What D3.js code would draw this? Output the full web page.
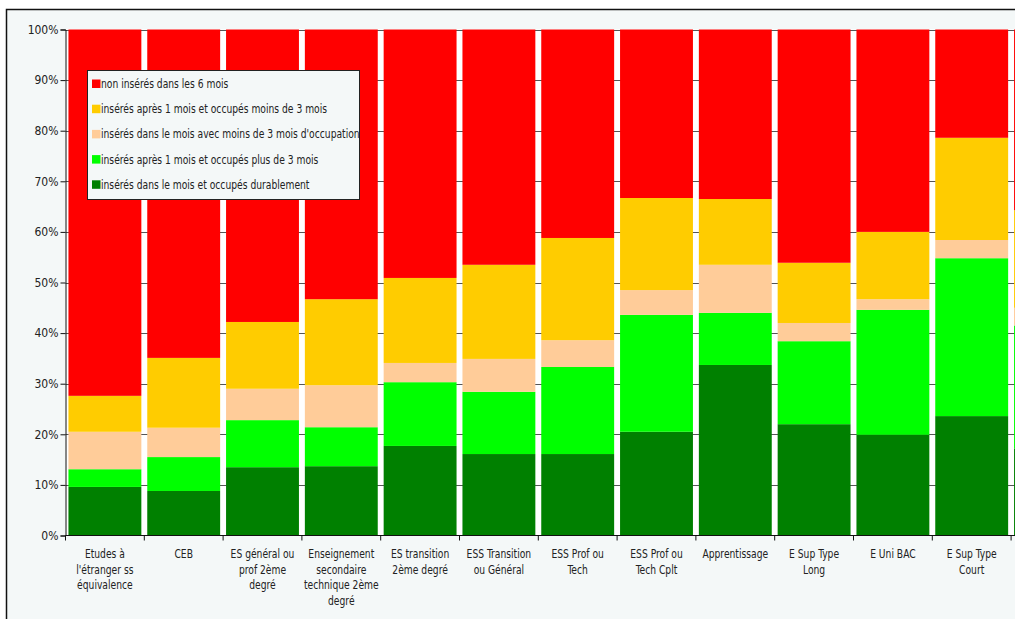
<!DOCTYPE html>
<html>
<head>
<meta charset="utf-8">
<script src="https://cdn.jsdelivr.net/npm/d3@7"></script>
<style>
  html, body { margin: 0; padding: 0; background: #ffffff; overflow: hidden; }
  svg { display: block; }
  text { font-family: "DejaVu Sans Condensed", "DejaVu Sans", sans-serif; fill: #222; }
</style>
</head>
<body>
<svg id="chart" width="1015" height="619"></svg>
<script>
// ---- Data ----
const categories = [
  ["Etudes à", "l'étranger ss", "équivalence"],
  ["CEB"],
  ["ES général ou", "prof 2ème", "degré"],
  ["Enseignement", "secondaire", "technique 2ème", "degré"],
  ["ES transition", "2ème degré"],
  ["ESS Transition", "ou Général"],
  ["ESS Prof ou", "Tech"],
  ["ESS Prof ou", "Tech Cplt"],
  ["Apprentissage"],
  ["E Sup Type", "Long"],
  ["E Uni BAC"],
  ["E Sup Type", "Court"],
  ["Total"]
];
const seriesNames = [
  "insérés dans le mois et occupés durablement",
  "insérés après 1 mois et occupés plus de 3 mois",
  "insérés dans le mois avec moins de 3 mois d'occupation",
  "insérés après 1 mois et occupés moins de 3 mois",
  "non insérés dans les 6 mois"
];
const seriesColors = ["#008000", "#00ff00", "#ffcc99", "#ffcc00", "#ff0000"];
// values in % (stack bottom -> top)
const durables      = [9.6, 8.8, 13.5, 13.7, 17.7, 16.1, 16.1, 20.5, 33.7, 22.0, 19.9, 23.6, 17.2];
const plus3mois     = [3.5, 6.7,  9.3,  7.7, 12.6, 12.3, 17.2, 23.1, 10.3, 16.4, 24.7, 31.2, 24.3];
const moinsDansMois = [7.4, 5.8,  6.2,  8.3,  3.8,  6.5,  5.3,  4.9,  9.5,  3.6,  2.1,  3.6,  3.5];
const moinsApres    = [7.1, 13.8, 13.2, 17.0, 16.8, 18.6, 20.2, 18.2, 13.0, 11.9, 13.3, 20.2, 19.3];
const nonInseres    = [72.4, 64.9, 57.8, 53.3, 49.1, 46.5, 41.2, 33.3, 33.5, 46.1, 40.0, 21.4, 35.7];
const yTicks = [0, 10, 20, 30, 40, 50, 60, 70, 80, 90, 100];

const seriesValues = [durables, plus3mois, moinsDansMois, moinsApres, nonInseres];

// ---- Build table ----
const keys = seriesNames;
const table = categories.map((c, i) => {
  const row = { cat: c.join(" "), lines: c };
  keys.forEach((k, j) => row[k] = seriesValues[j][i]);
  return row;
});

const svg = d3.select("#chart");
const W = 1015, H = 619;
const SQ = 0.85; // horizontal squeeze of the narrow original font

function squeeze(sel) {
  sel.each(function() {
    const w = this.getComputedTextLength();
    if (w > 0) d3.select(this).attr("textLength", w * SQ).attr("lengthAdjust", "spacingAndGlyphs");
  });
}

// outer chart frame
svg.append("rect").attr("x", 6.5).attr("y", 9.5).attr("width", W + 20).attr("height", H + 20)
  .attr("fill", "#f4f8f8").attr("stroke", "#111").attr("stroke-width", 1.5);

const step = 78.8;
const x0 = 65.5;
const x = d3.scaleBand()
  .domain(table.map(d => d.cat))
  .range([x0, x0 + step * categories.length])
  .paddingInner(0.075).paddingOuter(0.0375);
const y = d3.scaleLinear().domain([0, 100]).range([535.5, 29.5]);

// plot area background
svg.append("rect").attr("x", x0).attr("y", y(100)).attr("width", x.range()[1] - x0).attr("height", y(0) - y(100))
  .attr("fill", "#ffffff");

// gridlines
svg.append("g").selectAll("line").data(yTicks.filter(t => t > 0)).join("line")
  .attr("x1", x0).attr("x2", x.range()[1])
  .attr("y1", d => Math.round(y(d)) + 0.5).attr("y2", d => Math.round(y(d)) + 0.5)
  .attr("stroke", "#555").attr("stroke-width", 1);

// stacked bars
const stack = d3.stack().keys(keys);
const stacked = stack(table);
svg.append("g").selectAll("g").data(stacked).join("g")
  .attr("fill", (d, i) => seriesColors[i])
  .selectAll("rect").data(d => d).join("rect")
  .attr("x", d => x(d.data.cat))
  .attr("width", x.bandwidth())
  .attr("y", d => y(d[1]))
  .attr("height", d => y(d[0]) - y(d[1]));

// y axis
const yAxis = d3.axisLeft(y).tickValues(yTicks).tickFormat(d => d + "%").tickSize(5).tickPadding(2);
const gy = svg.append("g").attr("transform", `translate(${x0},0)`).call(yAxis);
gy.select(".domain").attr("stroke", "#111");
gy.selectAll(".tick line").attr("stroke", "#111");
gy.selectAll("text").attr("font-size", 12).attr("fill", "#222")
  .style("font-family", '"DejaVu Sans Condensed", "DejaVu Sans", sans-serif');

// x axis line + boundary ticks
const gx = svg.append("g");
gx.append("line").attr("x1", x0).attr("x2", x.range()[1]).attr("y1", y(0)).attr("y2", y(0)).attr("stroke", "#111");
gx.selectAll(".bt").data(d3.range(categories.length + 1)).join("line")
  .attr("x1", i => x0 + i * x.step()).attr("x2", i => x0 + i * x.step())
  .attr("y1", y(0)).attr("y2", y(0) + 5).attr("stroke", "#111");

// x labels (only categories whose centre lies inside the view)
const visible = table.filter(d => x(d.cat) + x.bandwidth() / 2 < W);
const lineData = [];
visible.forEach(d => d.lines.forEach((t, k) => lineData.push({ t, k, cx: x(d.cat) + x.bandwidth() / 2 })));
const xl = gx.selectAll(".xl").data(lineData).join("text")
  .attr("class", "xl")
  .attr("text-anchor", "middle").attr("font-size", 12)
  .attr("x", d => d.cx)
  .attr("y", d => 558 + d.k * 15.7)
  .text(d => d.t);
squeeze(xl);

// legend
const lg = svg.append("g");
lg.append("rect").attr("x", 87.5).attr("y", 70.5).attr("width", 272).attr("height", 129)
  .attr("fill", "#f4f8f8").attr("stroke", "#222").attr("stroke-width", 1);
const legendOrder = [4, 3, 2, 1, 0];
legendOrder.forEach((si, k) => {
  const cy = 84 + k * 25.2;
  lg.append("rect").attr("x", 92).attr("y", cy - 4.5).attr("width", 8.5).attr("height", 8.5).attr("fill", seriesColors[si]);
  const t = lg.append("text").attr("x", 101).attr("y", cy + 4).attr("font-size", 12).text(seriesNames[si]);
  squeeze(t);
});
</script>
</body>
</html>
